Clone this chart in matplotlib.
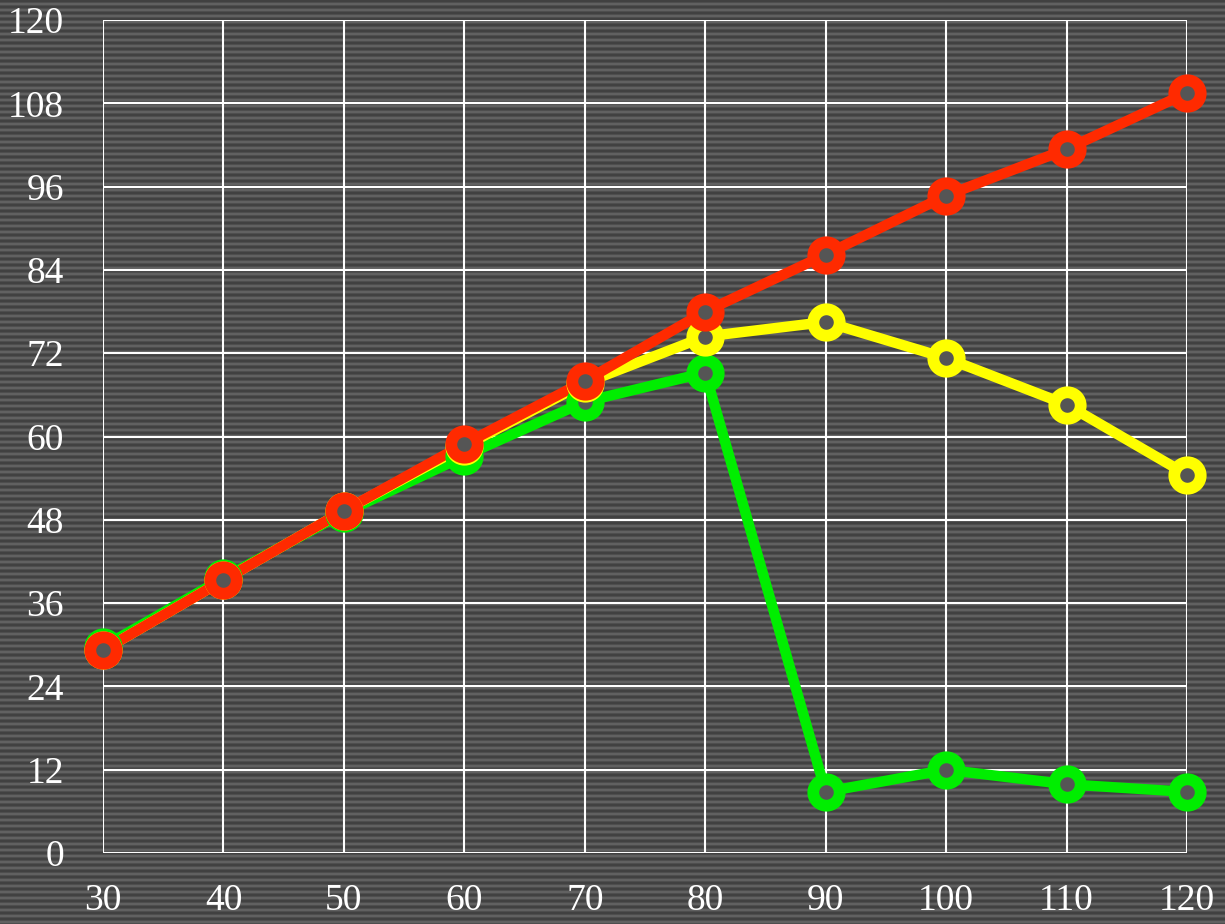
import numpy as np
import matplotlib.pyplot as plt

# Chart data
speed = [30, 40, 50, 60, 70, 80, 90, 100, 110, 120]
green_vals = [29.7, 39.6, 49.0, 57.2, 65.0, 69.2, 8.8, 12.0, 9.9, 8.8]
yellow_vals = [29.2, 39.3, 49.3, 58.6, 67.7, 74.4, 76.5, 71.3, 64.6, 54.5]
red_vals = [29.2, 39.3, 49.3, 58.9, 68.0, 78.0, 86.2, 94.7, 101.4, 109.5]
y_ticks = [0, 12, 24, 36, 48, 60, 72, 84, 96, 108, 120]

W, H = 1225, 924
fig = plt.figure(figsize=(W / 100, H / 100), dpi=100)

# striped background over the whole figure
bg = fig.add_axes([0, 0, 1, 1])
period = np.array([0x42, 0x42, 0x4e, 0x62, 0x62, 0x4e]) / 255.0
rows = np.tile(period, H // len(period) + 1)[:H]
bg.imshow(np.repeat(rows[:, None], 4, axis=1), cmap='gray', vmin=0, vmax=1,
          aspect='auto', interpolation='nearest', extent=[0, 1, 0, 1])
bg.set_axis_off()

# plot area: x 103..1187, y 20..853 (pixels from top)
left, right, top, bottom = 103, 1187, 20, 853
ax = fig.add_axes([left / W, 1 - bottom / H, (right - left) / W, (bottom - top) / H])
ax.patch.set_alpha(0)
ax.set_xlim(30, 120)
ax.set_ylim(0, 120)
ax.set_xticks(speed)
ax.set_yticks(y_ticks)
for s in ax.spines.values():
    s.set_visible(False)
ax.grid(True, color='white', linewidth=1.5)
ax.set_axisbelow(True)
ax.tick_params(length=0, colors='white', labelsize=27)
ax.tick_params(axis='y', pad=28)
ax.tick_params(axis='x', pad=22)
for lab in ax.get_xticklabels() + ax.get_yticklabels():
    lab.set_fontfamily('Liberation Serif')

face = '#555555'
for vals, col in [(green_vals, '#00ee00'), (yellow_vals, '#ffff00'), (red_vals, '#ff2a00')]:
    ax.plot(speed, vals, color=col, linewidth=7.5, zorder=3, clip_on=False)
    ax.plot(speed, vals, linestyle='none', marker='o', markersize=19,
            markeredgewidth=8.5, markerfacecolor=face, markeredgecolor=col,
            clip_on=False, zorder=4)

fig.savefig('out.png', dpi=100)
